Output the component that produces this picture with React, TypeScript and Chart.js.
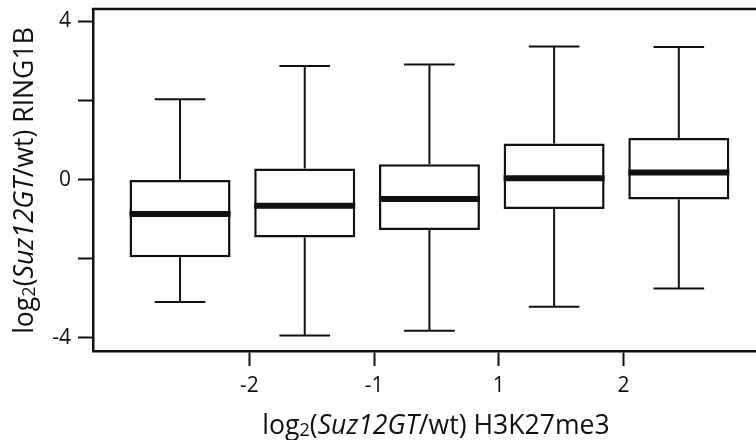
import React, { useEffect, useRef } from 'react';
import { Chart, registerables } from 'chart.js';

Chart.register(...registerables);

// Box positions (one per H3K27me3 bin)
const groups = [0, 1, 2, 3, 4];
const whiskerHigh = [2.03, 2.87, 2.91, 3.36, 3.35];
const q3 = [0.0, 0.28, 0.39, 0.91, 1.05];
const median = [-0.87, -0.66, -0.49, 0.035, 0.18];
const q1 = [-1.96, -1.46, -1.27, -0.74, -0.5];
const whiskerLow = [-3.09, -3.94, -3.82, -3.21, -2.75];

// X-axis bin boundary ticks
const xTickPositions = [0.556, 1.556, 2.556, 3.556];
const xTickLabels = ['-2', '-1', '1', '2'];

// Y-axis ticks
const yTickValues = [-4, -2, 0, 2, 4];
const yTickLabels = ['-4', '', '0', '', '4'];

const FONT = "'Open Sans', 'Noto Sans', sans-serif";
const INK = '#111';

type Seg = { t: string; italic?: boolean; sub?: boolean };

const xTitle: Seg[] = [
  { t: 'log' },
  { t: '2', sub: true },
  { t: '(' },
  { t: 'Suz12GT', italic: true },
  { t: '/wt) H3K27me3' },
];
const yTitle: Seg[] = [
  { t: 'log' },
  { t: '2', sub: true },
  { t: '(' },
  { t: 'Suz12GT', italic: true },
  { t: '/wt) RING1B' },
];

function segFont(s: Seg, size: number) {
  const sz = Math.round((s.sub ? size * 0.68 : size) * 10) / 10;
  return `${s.italic ? 'italic ' : ''}${sz}px ${FONT}`;
}

function drawRich(ctx: CanvasRenderingContext2D, segs: Seg[], size: number) {
  let total = 0;
  const widths = segs.map((s) => {
    ctx.font = segFont(s, size);
    const w = ctx.measureText(s.t).width;
    total += w;
    return w;
  });
  let x = -total / 2;
  ctx.textBaseline = 'alphabetic';
  ctx.textAlign = 'left';
  segs.forEach((s, i) => {
    ctx.font = segFont(s, size);
    ctx.fillText(s.t, x, s.sub ? size * 0.08 : 0);
    x += widths[i];
  });
}

const boxExtras = {
  id: 'boxExtras',
  afterDatasetsDraw(chart: any) {
    const { ctx, chartArea, scales } = chart;
    const x = scales.x;
    const y = scales.y;
    const line = (x1: number, y1: number, x2: number, y2: number) => {
      ctx.beginPath();
      ctx.moveTo(x1, y1);
      ctx.lineTo(x2, y2);
      ctx.stroke();
    };
    ctx.save();
    ctx.strokeStyle = INK;
    ctx.lineCap = 'butt';
    groups.forEach((g, i) => {
      const cx = x.getPixelForValue(g);
      const capL = x.getPixelForValue(g - 0.203);
      const capR = x.getPixelForValue(g + 0.203);
      ctx.lineWidth = 2;
      line(cx, y.getPixelForValue(q3[i]), cx, y.getPixelForValue(whiskerHigh[i]));
      line(capL, y.getPixelForValue(whiskerHigh[i]), capR, y.getPixelForValue(whiskerHigh[i]));
      line(cx, y.getPixelForValue(q1[i]), cx, y.getPixelForValue(whiskerLow[i]));
      line(capL, y.getPixelForValue(whiskerLow[i]), capR, y.getPixelForValue(whiskerLow[i]));
      ctx.lineWidth = 6;
      const my = y.getPixelForValue(median[i]);
      line(x.getPixelForValue(g - 0.405), my, x.getPixelForValue(g + 0.405), my);
    });
    ctx.lineWidth = 2.5;
    line(chartArea.left - 1.25, chartArea.top, chartArea.right, chartArea.top);
    ctx.restore();
  },
  afterDraw(chart: any) {
    const { ctx } = chart;
    ctx.save();
    ctx.fillStyle = INK;
    // x title
    ctx.save();
    ctx.translate(436, 433.5);
    drawRich(ctx, xTitle, 26.6);
    ctx.restore();
    // y title
    ctx.save();
    ctx.translate(33, 180.5);
    ctx.rotate(-Math.PI / 2);
    drawRich(ctx, yTitle, 26.6);
    ctx.restore();
    ctx.restore();
  },
};

export default function App() {
  const ref = useRef<HTMLCanvasElement>(null);
  useEffect(() => {
    document.body.style.margin = '0';
    const canvas = ref.current!;
    const chart = new Chart(canvas, {
      type: 'bar',
      data: {
        datasets: [
          {
            data: groups.map((g, i) => ({ x: g, y: [q1[i], q3[i]] })) as any,
            backgroundColor: '#fff',
            borderColor: INK,
            borderWidth: 2.5,
            borderSkipped: false,
            barPercentage: 0.81,
            categoryPercentage: 1,
          },
        ],
      },
      options: {
        animation: false,
        responsive: false,
        devicePixelRatio: 1,
        layout: { padding: { top: 9, right: 0, left: 0, bottom: 0 } },
        plugins: { legend: { display: false }, tooltip: { enabled: false } },
        scales: {
          x: {
            type: 'linear',
            min: -0.698,
            max: 4.619,
            offset: false,
            afterBuildTicks: (s: any) => {
              s.ticks = xTickPositions.map((v) => ({ value: v }));
            },
            afterFit: (s: any) => {
              s.height = 89;
              s.paddingLeft = 0;
              s.paddingRight = 0;
            },
            ticks: {
              autoSkip: false,
              maxRotation: 0,
              padding: 7,
              color: INK,
              font: { family: FONT, size: 21 },
              callback: (_v: any, i: number) => xTickLabels[i],
            },
            grid: {
              display: true,
              offset: false,
              drawOnChartArea: false,
              drawTicks: true,
              tickLength: 15,
              tickWidth: 2,
              tickColor: INK,
            },
            border: { display: true, color: INK, width: 2.5 },
          },
          y: {
            type: 'linear',
            min: -4.33,
            max: 4.31,
            afterBuildTicks: (s: any) => {
              s.ticks = yTickValues.map((v) => ({ value: v }));
            },
            afterFit: (s: any) => {
              s.width = 93;
              s.paddingTop = 0;
              s.paddingBottom = 0;
            },
            ticks: {
              autoSkip: false,
              padding: 7,
              color: INK,
              font: { family: FONT, size: 21 },
              callback: (_v: any, i: number) => yTickLabels[i],
            },
            grid: {
              display: true,
              offset: false,
              drawOnChartArea: false,
              drawTicks: true,
              tickLength: 15,
              tickWidth: 2,
              tickColor: INK,
            },
            border: { display: true, color: INK, width: 2.5 },
          },
        },
      },
      plugins: [boxExtras],
    });
    return () => chart.destroy();
  }, []);
  return (
    <div style={{ width: 756, height: 440, position: 'relative', background: '#fff' }}>
      <canvas ref={ref} width={756} height={440} style={{ display: 'block' }} />
    </div>
  );
}
